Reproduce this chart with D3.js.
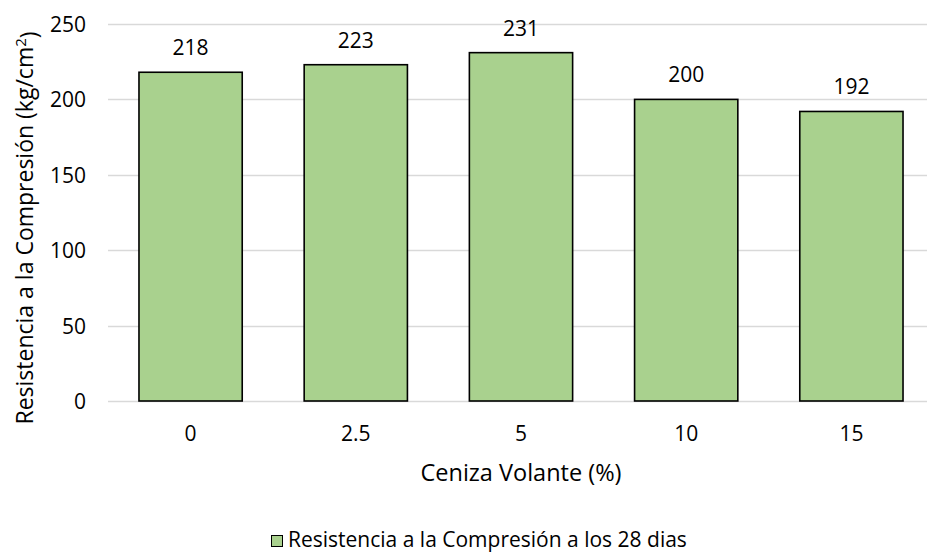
<!DOCTYPE html>
<html><head><meta charset="utf-8">
<script src="https://cdn.jsdelivr.net/npm/d3@7"></script>
<style>body{margin:0;background:#fff}svg{display:block}text{font-family:"Open Sans",sans-serif;fill:#000}</style>
</head><body>
<script>
const categories = ["0","2.5","5","10","15"];
const values = [218,223,231,200,192];
const yTicks = [0,50,100,150,200,250];
const seriesName = "Resistencia a la Compresión a los 28 dias";

const W=927,H=554;
const svg=d3.select("body").append("svg").attr("width",W).attr("height",H);
const x=d3.scaleBand().domain(categories).range([108,934]).paddingInner(0.375).paddingOuter(0.1875);
const y=d3.scaleLinear().domain([0,250]).range([401,24]);
const fs=21, tfs=23.5;

svg.append("g").selectAll("line").data(yTicks).join("line")
 .attr("x1",108).attr("x2",934).attr("y1",d=>Math.round(y(d))+0.5).attr("y2",d=>Math.round(y(d))+0.5)
 .attr("stroke","#D9D9D9").attr("stroke-width",1.5);

const yAxis=d3.axisLeft(y).tickValues(yTicks).tickSize(0).tickPadding(22);
const gy=svg.append("g").attr("transform","translate(108,0)").call(yAxis);
gy.select(".domain").remove();
gy.selectAll("text").style("font-size",fs+"px").attr("dy","0.36em");

const xAxis=d3.axisBottom(x).tickSize(0);
const gx=svg.append("g").attr("transform","translate(0,401)").call(xAxis);
gx.select(".domain").remove();
gx.selectAll("text").style("font-size",fs+"px").attr("y",40).attr("dy",0);

svg.append("g").selectAll("rect").data(values).join("rect")
 .attr("x",(d,i)=>x(categories[i])).attr("width",x.bandwidth())
 .attr("y",d=>y(d)).attr("height",d=>y(0)-y(d))
 .attr("fill","#A9D18E").attr("stroke","#000").attr("stroke-width",1.6);

svg.append("g").selectAll("text").data(values).join("text")
 .attr("x",(d,i)=>x(categories[i])+x.bandwidth()/2).attr("y",d=>y(d)-17)
 .attr("text-anchor","middle").style("font-size",fs+"px").text(d=>d);

svg.append("text").attr("x",521).attr("y",481).attr("text-anchor","middle").style("font-size",tfs+"px").text("Ceniza Volante (%)");

const yt=svg.append("text").attr("transform","translate(33,228) rotate(-90)").attr("text-anchor","middle").style("font-size","23px");
yt.append("tspan").text("Resistencia a la Compresión (kg/cm");
yt.append("tspan").attr("dy","-0.45em").style("font-size","15px").text("2");
yt.append("tspan").attr("dy","0.45em").text(")");

const lg=svg.append("g");
lg.append("rect").attr("x",271.5).attr("y",535.5).attr("width",11).attr("height",11).attr("fill","#A9D18E").attr("stroke","#000").attr("stroke-width",1);
lg.append("text").attr("x",288).attr("y",547).style("font-size",fs+"px").text(seriesName);
</script>
</body></html>
